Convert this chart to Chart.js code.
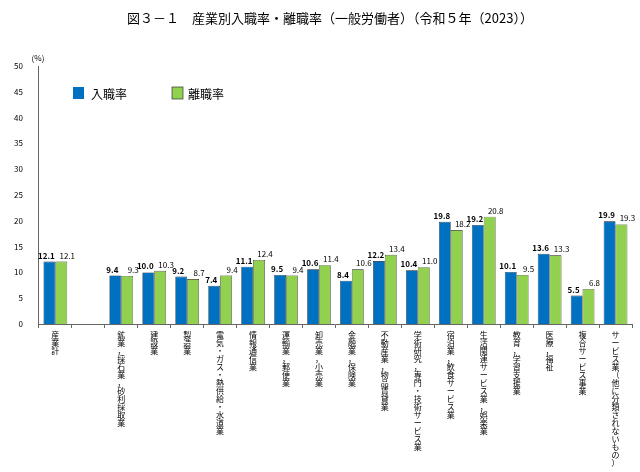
<!DOCTYPE html>
<html><head><meta charset="utf-8">
<script src="https://cdn.jsdelivr.net/npm/chart.js@4"></script>
<style>html,body{margin:0;padding:0;background:#fff}#w{width:640px;height:472px}</style>
</head><body><div id="w"><canvas id="c"></canvas></div>
<script>
const categories = ["産業計","","鉱業，採石業，砂利採取業","建設業","製造業","電気・ガス・熱供給・水道業","情報通信業","運輸業，郵便業","卸売業，小売業","金融業，保険業","不動産業，物品賃貸業","学術研究，専門・技術サービス業","宿泊業，飲食サービス業","生活関連サービス業，娯楽業","教育，学習支援業","医療，福祉","複合サービス事業","サービス業（他に分類されないもの）"];
const entryRate = [12.1,null,9.4,10.0,9.2,7.4,11.1,9.5,10.6,8.4,12.2,10.4,19.8,19.2,10.1,13.6,5.5,19.9];
const exitRate  = [12.1,null,9.3,10.3,8.7,9.4,12.4,9.4,11.4,10.6,13.4,11.0,18.2,20.8,9.5,13.3,6.8,19.3];
const yTicks = [0,5,10,15,20,25,30,35,40,45,50];
const FONT = "'Noto Sans CJK JP', sans-serif";

const deco = {
  id:'deco',
  afterDatasetsDraw(chart){
    const ctx = chart.ctx;
    ctx.save();
    ctx.fillStyle='#000';
    ctx.font = "13px "+FONT; ctx.textAlign='center'; ctx.textBaseline='middle';
    ctx.fillText("図３－１　産業別入職率・離職率（一般労働者）（令和５年（2023））", 330, 18);
    ctx.font = "8px "+FONT; ctx.fillText("(%)", 38, 58);
    // legend
    ctx.font = "12px "+FONT; ctx.textAlign='left';
    ctx.fillStyle='#0070C0'; ctx.fillRect(73,87,11,12);
    ctx.fillStyle='#000'; ctx.fillText("入職率", 91, 94);
    ctx.fillStyle='#92D050'; ctx.fillRect(172,87,11,12);
    ctx.strokeStyle='#333'; ctx.lineWidth=0.7; ctx.strokeRect(172,87,11,12);
    ctx.fillStyle='#000'; ctx.fillText("離職率", 188, 94);
    // value labels
    ctx.font = "bold 8px "+FONT; ctx.textBaseline='bottom';
    chart.data.datasets.forEach((ds,di)=>{
      const meta = chart.getDatasetMeta(di);
      meta.data.forEach((el,i)=>{
        const v = ds.data[i]; if(v==null) return;
        ctx.textAlign='center';
        const x = di===0 ? el.x-3 : el.x+6;
        ctx.font = (di===0?"bold ":"")+"8px "+FONT;
        ctx.fillText(v.toFixed(1), x, el.y-2);
      });
    });
    ctx.restore();
  }
};

new Chart(document.getElementById('c'), {
  type:'bar',
  data:{
    labels: categories.map(s=>s.split('')),
    datasets:[
      {label:'入職率', data:entryRate, backgroundColor:'#0070C0', borderColor:'#1a1a1a', borderWidth:0.6, categoryPercentage:0.72, barPercentage:1},
      {label:'離職率', data:exitRate, backgroundColor:'#92D050', borderColor:'#1a1a1a', borderWidth:0.6, categoryPercentage:0.72, barPercentage:1}
    ]
  },
  options:{
    responsive:true, maintainAspectRatio:false, animation:false,
    layout:{padding:{top:66,right:8,left:6,bottom:2}},
    plugins:{legend:{display:false}, tooltip:{enabled:false}},
    scales:{
      x:{grid:{display:true, drawOnChartArea:false, offset:true, tickLength:4, color:'#666'},
         border:{color:'#666'},
         ticks:{maxRotation:0, minRotation:0, autoSkip:false, font:{family:FONT,size:8, lineHeight:1.0}, color:'#000', padding:3}},
      y:{min:0,max:50, afterBuildTicks(a){a.ticks=yTicks.map(v=>({value:v}));},
         grid:{display:false}, border:{color:'#666'},
         ticks:{font:{family:FONT,size:8}, color:'#000', padding:8}}
    }
  },
  plugins:[deco]
});
</script></body></html>
